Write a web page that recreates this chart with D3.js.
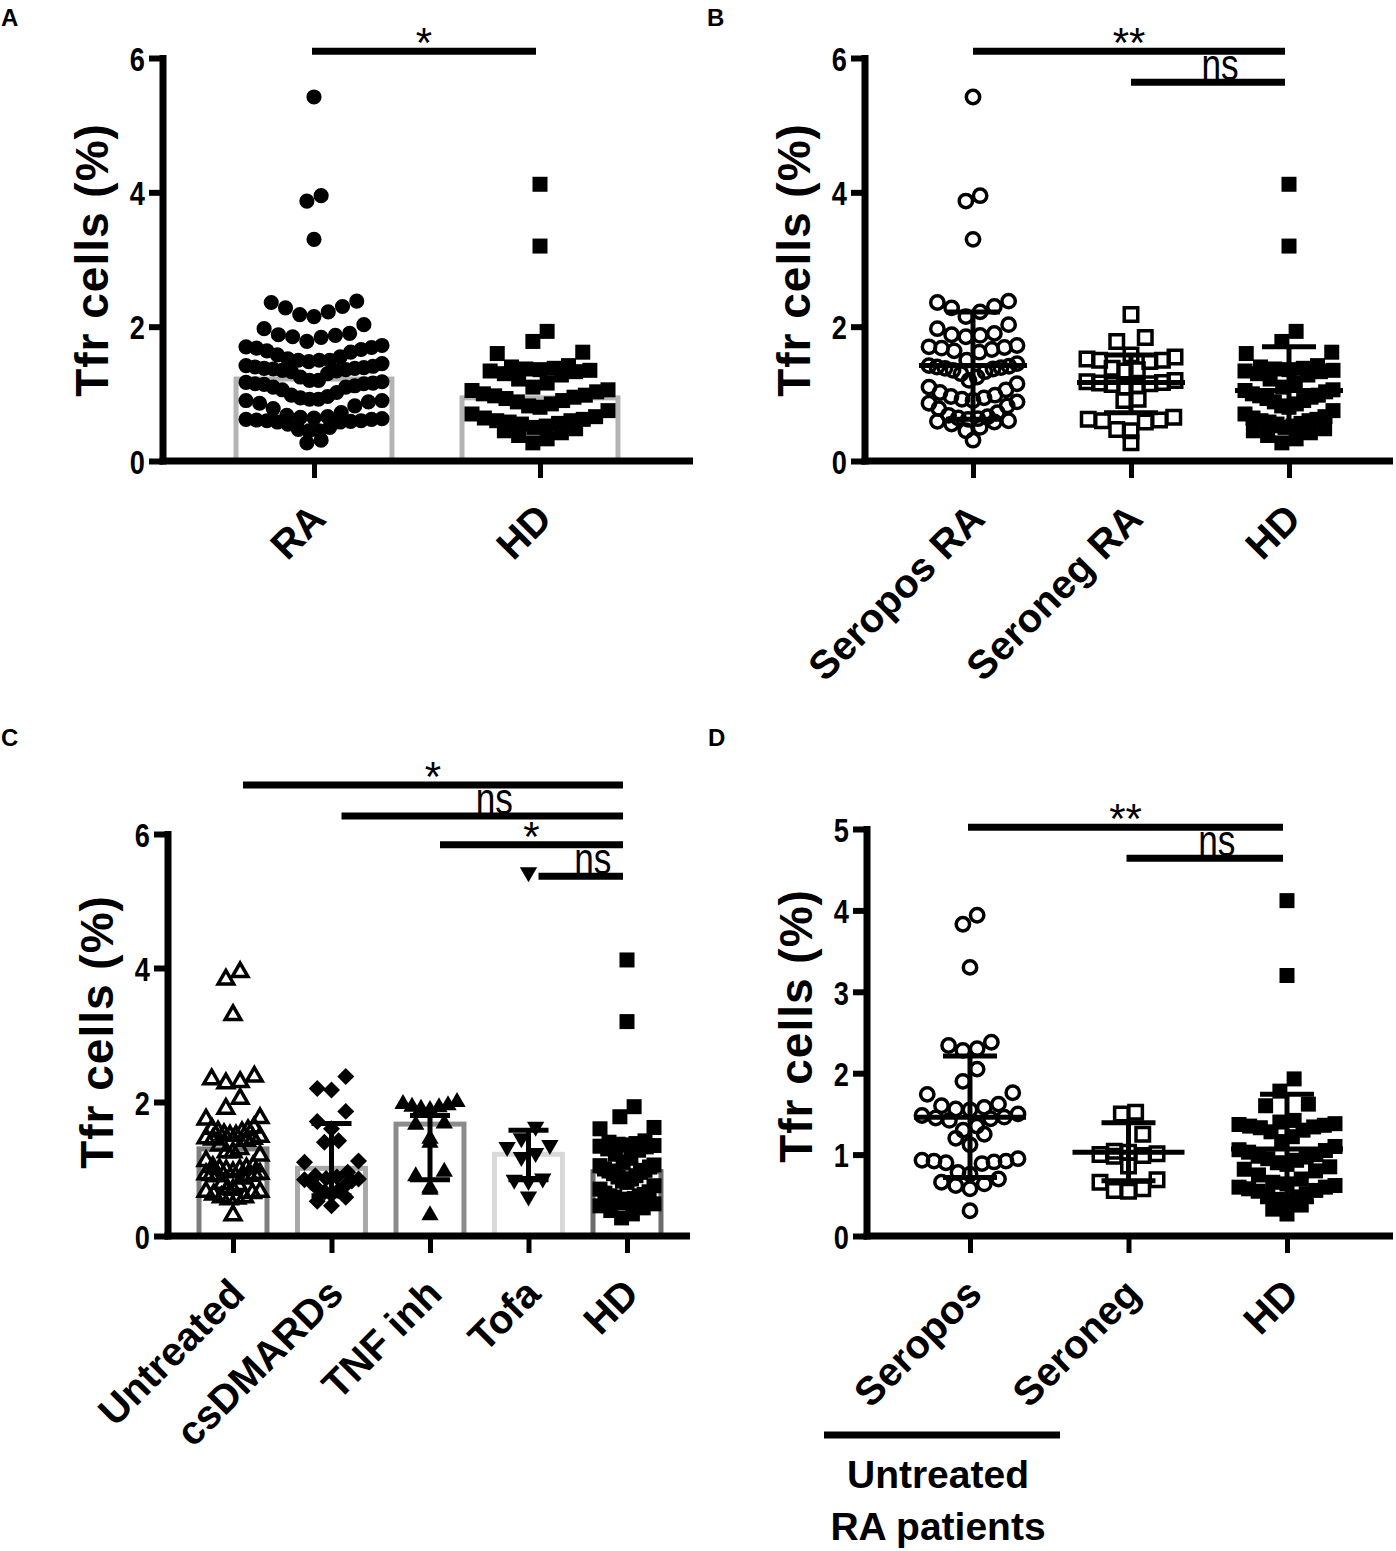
<!DOCTYPE html>
<html>
<head>
<meta charset="utf-8">
<script src="https://cdn.jsdelivr.net/npm/d3@7"></script>
<style>
  body { margin: 0; background: #fff; }
  svg { display: block; }
</style>
</head>
<body>
<svg width="1396" height="1551"></svg>
<script>
// ---- data ----
var catsA = ["RA", "HD"],
    catsB = ["Seropos RA", "Seroneg RA", "HD"],
    catsC = ["Untreated", "csDMARDs", "TNF inh", "Tofa", "HD"],
    catsD = ["Seropos", "Seroneg", "HD"];

var hd = [4.12, 3.2, 1.93, 1.78, 1.62, 1.6, 1.42, 1.4, 1.38, 1.37, 1.36, 1.35, 1.34, 1.33, 1.3, 1.28,
          1.22, 1.16, 1.1, 1.06, 1.05, 1.03, 1.0, 0.98, 0.97, 0.95, 0.93, 0.9, 0.88, 0.85, 0.82, 0.8,
          0.75, 0.7, 0.66, 0.64, 0.62, 0.6, 0.6, 0.58, 0.56, 0.55, 0.52, 0.5, 0.48, 0.45, 0.42, 0.38, 0.33, 0.27];

var seroposRA = [5.42, 3.95, 3.87, 3.3, 2.38, 2.36, 2.3, 2.28, 2.22, 2.15, 2.03, 1.97, 1.9, 1.88, 1.87, 1.85,
                 1.72, 1.7, 1.69, 1.68, 1.66, 1.64, 1.62, 1.5, 1.45, 1.42, 1.41, 1.4, 1.39, 1.38, 1.37, 1.35,
                 1.33, 1.3, 1.25, 1.2, 1.15, 1.1, 1.06, 1.02, 0.98, 0.96, 0.94, 0.92, 0.9, 0.88, 0.86, 0.82,
                 0.78, 0.72, 0.68, 0.66, 0.64, 0.63, 0.62, 0.6, 0.59, 0.58, 0.55, 0.5, 0.45, 0.31];
var seronegRA = [2.18, 1.84, 1.78, 1.58, 1.55, 1.52, 1.5, 1.5, 1.48, 1.38, 1.36, 1.34, 1.2, 1.18, 1.17,
                 1.16, 1.15, 1.14, 1.12, 1.1, 0.92, 0.9, 0.65, 0.62, 0.61, 0.6, 0.58, 0.47, 0.45, 0.27];
var ra = seroposRA.concat(seronegRA);

var untreatedSeropos = [3.94, 3.83, 3.3, 2.38, 2.34, 2.3, 2.28, 2.05, 1.9, 1.76, 1.74, 1.62, 1.6, 1.58,
                        1.56, 1.55, 1.5, 1.48, 1.46, 1.45, 1.44, 1.42, 1.35, 1.3, 1.25, 1.2, 1.12, 0.95,
                        0.93, 0.92, 0.92, 0.91, 0.9, 0.89, 0.78, 0.76, 0.7, 0.66, 0.64, 0.62, 0.58, 0.31];
var untreatedSeroneg = [1.52, 1.5, 1.25, 1.04, 1.03, 1.01, 1.0, 0.99, 0.98, 0.86, 0.69, 0.66, 0.58, 0.56, 0.55];
var untreated = untreatedSeropos.concat(untreatedSeroneg);
var csdmards = [2.38, 2.2, 2.18, 1.86, 1.71, 1.6, 1.42, 1.4, 1.12, 1.1, 0.95, 0.9, 0.88, 0.86, 0.85, 0.84,
                0.82, 0.8, 0.75, 0.7, 0.68, 0.66, 0.62, 0.58, 0.52, 0.45];
var tnfInh = [2.0, 1.97, 1.95, 1.93, 1.92, 1.9, 1.88, 1.68, 1.66, 1.45, 1.39, 0.96, 0.89, 0.72, 0.69, 0.31];
var tofa = [5.43, 1.63, 1.46, 1.36, 1.33, 1.24, 1.18, 0.86, 0.84, 0.82, 0.59];

// bar heights (A, C) and error bars [centre, low, high] (B, C, D); null = hidden in the dots
var barsA = [1.22, 0.94];
var barsC = [1.30, 1.01, 1.67, 1.22, 0.96];
var errB = [[1.42, 0.62, 2.22], [1.17, 0.72, 1.58], [1.05, 0.45, 1.7]];
var errC = [null, [1.01, 0.6, 1.68], [1.67, 0.84, 1.8], [1.22, 0.84, 1.58], null];
var errD = [[1.46, 0.72, 2.21], [1.03, 0.68, 1.39], [1.07, 0.42, 1.74]];

// significance bars: [from, to, label, y value]
var sigA = [[0, 1, "*", 6.1]];
var sigB = [[0, 2, "**", 6.1], [1, 2, "ns", 5.64]];
var sigC = [[0, 4, "*", 6.73], [1, 4, "ns", 6.27], [2, 4, "*", 5.84], [3, 4, "ns", 5.37]];
var sigD = [[0, 2, "**", 5.02], [1, 2, "ns", 4.64]];

var ticks6 = [0, 2, 4, 6],
    ticks5 = [0, 1, 2, 3, 4, 5];

// ---- marker styles ----
var filledCircle = {type: d3.symbolCircle, area: 180, fill: "#000"},
    openCircle = {type: d3.symbolCircle, area: 140, fill: "none", stroke: 3.5},
    filledSquare = {type: d3.symbolSquare, area: 225, fill: "#000"},
    openSquare = {type: d3.symbolSquare, area: 182, fill: "none", stroke: 3.5},
    openTri = {type: d3.symbolTriangle, area: 105, fill: "none", stroke: 3.5},
    filledTri = {type: d3.symbolTriangle, area: 130, fill: "#000"},
    diamond = {type: d3.symbolSquare, area: 144, fill: "#000", rot: 45},
    downTri = {type: d3.symbolTriangle, area: 130, fill: "#000", rot: 180};

var svg = d3.select("svg");
var boldFont = "'Liberation Sans', Arial, sans-serif";

// GraphPad-like scatter: points that fall into one row are spread sideways,
// lowest value in the middle
function swarm(values, cx, y, size, maxHalf) {
  var pts = values.map(function(v) { return {v: v, py: y(v)}; })
      .sort(function(a, b) { return a.py - b.py; });
  var rows = [], cur = null;
  pts.forEach(function(p) {
    if (!cur || p.py - cur.start > size * 1.2) { cur = {start: p.py, pts: []}; rows.push(cur); }
    cur.pts.push(p);
  });
  rows.forEach(function(r) {
    var n = r.pts.length,
        s = n > 1 ? Math.min(size * 0.95, 2 * maxHalf / (n - 1)) : 0,
        slots = d3.range(n).map(function(i) { return (i - (n - 1) / 2) * s; })
          .sort(function(a, b) { return Math.abs(a) - Math.abs(b) || a - b; });
    r.pts.sort(function(a, b) { return a.v - b.v; })
      .forEach(function(p, i) { p.px = cx + slots[i]; });
  });
  return pts;
}

function panel(c) {
  var g = svg.append("g");
  var y = d3.scaleLinear().domain([0, c.max]).range([c.yBot, c.yTop]),
      x = d3.scalePoint().domain(c.cats).range(c.xr),
      step = x.step();

  // bars
  if (c.bars) {
    var bw = step * 0.69;
    g.append("g").selectAll("rect")
      .data(c.bars)
      .enter().append("rect")
        .attr("x", function(d, i) { return x(c.cats[i]) - bw / 2; })
        .attr("width", bw)
        .attr("y", function(d) { return y(d); })
        .attr("height", function(d) { return y(0) - y(d); })
        .attr("fill", "none")
        .attr("stroke", function(d, i) { return c.barColors[i]; })
        .attr("stroke-width", 5);
  }

  // points
  c.groups.forEach(function(vals, i) {
    var st = c.styles[i],
        pts = swarm(vals, x(c.cats[i]), y, 15, c.maxHalf),
        d = d3.symbol().type(st.type).size(st.area)();
    g.append("g").selectAll("path")
      .data(pts)
      .enter().append("path")
        .attr("transform", function(p) { return "translate(" + p.px + "," + p.py + ") rotate(" + (st.rot || 0) + ")"; })
        .attr("d", d)
        .attr("fill", st.fill)
        .attr("stroke", st.stroke ? "#000" : "none")
        .attr("stroke-width", st.stroke || 0);
  });

  // error bars
  if (c.err) {
    var eg = g.append("g").attr("stroke", "#000").attr("stroke-width", 5);
    c.err.forEach(function(e, i) {
      if (!e) return;
      var cx = x(c.cats[i]);
      eg.append("line").attr("x1", cx).attr("x2", cx).attr("y1", y(e[1])).attr("y2", y(e[2]));
      [e[1], e[2]].forEach(function(v) {
        eg.append("line").attr("x1", cx - c.capW / 2).attr("x2", cx + c.capW / 2).attr("y1", y(v)).attr("y2", y(v));
      });
      if (c.meanW) eg.append("line").attr("x1", cx - c.meanW / 2).attr("x2", cx + c.meanW / 2).attr("y1", y(e[0])).attr("y2", y(e[0]));
    });
  }

  // y axis
  var ya = g.append("g")
      .attr("transform", "translate(" + c.ox + ",0)")
      .call(d3.axisLeft(y).tickValues(c.ticks).tickSize(14).tickSizeOuter(0).tickFormat(d3.format("d")));
  ya.select(".domain").remove();
  ya.selectAll(".tick line").attr("stroke-width", 6);
  ya.selectAll(".tick text")
      .attr("x", null)
      .attr("transform", "translate(-18,0) scale(0.8,1)")
      .attr("font-family", boldFont).attr("font-weight", "bold").attr("font-size", 34)
      .attr("dy", "0.36em");
  g.append("line")
      .attr("x1", c.ox).attr("x2", c.ox)
      .attr("y1", c.yTop - 3).attr("y2", c.yBot + 3.5)
      .attr("stroke", "#000").attr("stroke-width", 7);

  // x axis
  var xa = g.append("g")
      .attr("transform", "translate(0," + c.yBot + ")")
      .call(d3.axisBottom(x).tickSize(17).tickFormat(""));
  xa.select(".domain").remove();
  xa.selectAll(".tick line").attr("stroke-width", 5);
  g.append("line")
      .attr("x1", c.ox - 3.5).attr("x2", c.ex)
      .attr("y1", c.yBot).attr("y2", c.yBot)
      .attr("stroke", "#000").attr("stroke-width", 7);

  g.append("g").selectAll("text")
    .data(c.cats)
    .enter().append("text")
      .attr("transform", function(d) { return "translate(" + (x(d) + 14) + "," + (c.yBot + 60) + ") rotate(-45)"; })
      .attr("text-anchor", "end")
      .attr("font-family", boldFont).attr("font-weight", "bold").attr("font-size", 40)
      .text(function(d) { return d; });

  // y title
  g.append("text")
      .attr("transform", "translate(" + (c.ox - 55) + "," + c.titleY + ") rotate(-90)")
      .attr("text-anchor", "middle")
      .attr("font-family", boldFont).attr("font-weight", "bold").attr("font-size", 46)
      .attr("letter-spacing", 1)
      .text("Tfr cells (%)");

  // significance
  c.sig.forEach(function(s) {
    var x1 = x(c.cats[s[0]]) + c.sigOff, x2 = x(c.cats[s[1]]) - 4, yy = y(s[3]);
    g.append("line").attr("x1", x1).attr("x2", x2).attr("y1", yy).attr("y2", yy)
      .attr("stroke", "#000").attr("stroke-width", 7);
    var isNs = s[2] === "ns",
        tx = (x1 + x2) / 2 + (isNs ? 12 : 0);
    g.append("text")
      .attr("transform", "translate(" + tx + "," + (isNs ? yy - 2 : yy + 6) + ")" + (isNs ? " scale(0.8,1)" : ""))
      .attr("text-anchor", "middle")
      .attr("font-family", boldFont)
      .attr("font-size", isNs ? 44 : 42)
      .text(s[2]);
  });

  // panel letter
  g.append("text")
      .attr("x", c.lx).attr("y", c.ly)
      .attr("font-family", boldFont).attr("font-weight", "bold").attr("font-size", 24)
      .text(c.letter);

  return {x: x, y: y, g: g};
}

panel({letter: "A", lx: 1, ly: 26, ox: 163, ex: 693, yTop: 58, yBot: 461, max: 6, ticks: ticks6,
       cats: catsA, xr: [314, 540], titleY: 260, maxHalf: 68,
       groups: [ra, hd], styles: [filledCircle, filledSquare],
       bars: barsA, barColors: ["#b4b4b4", "#b4b4b4"], sig: sigA, sigOff: -2});

panel({letter: "B", lx: 707, ly: 26, ox: 865, ex: 1393, yTop: 58, yBot: 461, max: 6, ticks: ticks6,
       cats: catsB, xr: [973, 1289], titleY: 260, maxHalf: 44,
       groups: [seroposRA, seronegRA, hd], styles: [openCircle, openSquare, filledSquare],
       err: errB, capW: 54, meanW: 108, sig: sigB, sigOff: 0});

panel({letter: "C", lx: 1, ly: 746, ox: 168, ex: 690, yTop: 834, yBot: 1236, max: 6, ticks: ticks6,
       cats: catsC, xr: [233, 627], titleY: 1032, maxHalf: 27,
       groups: [untreated, csdmards, tnfInh, tofa, hd], styles: [openTri, diamond, filledTri, downTri, filledSquare],
       bars: barsC, barColors: ["#7e7e7e", "#a8a8a8", "#8c8c8c", "#d9d9d9", "#6c6c6c"],
       err: errC, capW: 40, meanW: 0, sig: sigC, sigOff: 10});

var pD = panel({letter: "D", lx: 708, ly: 746, ox: 867, ex: 1393, yTop: 829, yBot: 1236, max: 5, ticks: ticks5,
       cats: catsD, xr: [970, 1287], titleY: 1026, maxHalf: 48,
       groups: [untreatedSeropos, untreatedSeroneg, hd], styles: [openCircle, openSquare, filledSquare],
       err: errD, capW: 54, meanW: 112, sig: sigD, sigOff: -2});

// bracket under Seropos / Seroneg in D
pD.g.append("line")
    .attr("x1", 824).attr("x2", 1060).attr("y1", 1435).attr("y2", 1435)
    .attr("stroke", "#000").attr("stroke-width", 7);
pD.g.append("text")
    .attr("x", 938).attr("y", 1488)
    .attr("text-anchor", "middle")
    .attr("font-family", boldFont).attr("font-weight", "bold").attr("font-size", 39)
    .text("Untreated");
pD.g.append("text")
    .attr("x", 938).attr("y", 1540)
    .attr("text-anchor", "middle")
    .attr("font-family", boldFont).attr("font-weight", "bold").attr("font-size", 39)
    .text("RA patients");
</script>
</body>
</html>
